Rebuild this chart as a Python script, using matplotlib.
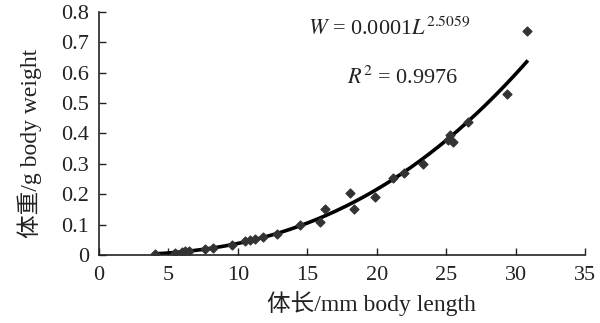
import numpy as np
import matplotlib
matplotlib.use("Agg")
import matplotlib.pyplot as plt

# body length (mm) and body weight (g)
length = [4.0, 5.5, 6.0, 6.2, 6.5, 7.6, 8.2, 9.6, 10.5, 10.9, 11.2, 11.8, 12.8,
          14.5, 15.9, 16.3, 18.1, 18.4, 19.9, 21.2, 22.0, 23.3, 25.1, 25.3, 25.5,
          26.6, 29.4, 30.8]
weight = [0.004, 0.008, 0.010, 0.012, 0.013, 0.019, 0.023, 0.034, 0.045, 0.048,
          0.052, 0.058, 0.070, 0.100, 0.109, 0.151, 0.204, 0.151, 0.191, 0.253,
          0.270, 0.300, 0.380, 0.395, 0.372, 0.437, 0.530, 0.737]

x_ticks = [0, 5, 10, 15, 20, 25, 30, 35]
y_ticks = [0, 0.1, 0.2, 0.3, 0.4, 0.5, 0.6, 0.7, 0.8]
y_tick_labels = ["0", "0.1", "0.2", "0.3", "0.4", "0.5", "0.6", "0.7", "0.8"]

fonts = ["Liberation Serif", "Noto Sans CJK SC"]
plt.rcParams["font.family"] = fonts
plt.rcParams["mathtext.fontset"] = "stix"

fig = plt.figure(figsize=(6.0, 3.23), dpi=100)
ax = fig.add_axes([0.165, 0.2105, 0.81, 0.7525])

# power trend line fitted on the data (log-log)
b, log_a = np.polyfit(np.log(length), np.log(weight), 1)
xs = np.linspace(min(length), max(length), 200)
ax.plot(xs, np.exp(log_a) * xs ** b, color="black", lw=2.6, zorder=2)

ax.scatter(length, weight, marker="D", s=20, color="#333333", zorder=3)

ax.set_xlim(0, 35)
ax.set_ylim(0, 0.8)
ax.set_xticks(x_ticks)
ax.set_yticks(y_ticks)
ax.set_yticklabels(y_tick_labels)
ax.tick_params(direction="in", length=5, width=1, labelsize=16, colors="#222222")
ax.tick_params(axis="x", pad=8)
ax.tick_params(axis="y", pad=7)
ax.spines["top"].set_visible(False)
ax.spines["right"].set_visible(False)
for s in ("left", "bottom"):
    ax.spines[s].set_linewidth(1.2)
    ax.spines[s].set_color("#222222")

ax.set_xlabel("体长/mm body length", fontsize=17, color="#222222")
ax.xaxis.set_label_coords(0.56, -0.15)
ax.set_ylabel("体重/g body weight", fontsize=17, color="#222222")
ax.yaxis.set_label_coords(-0.118, 0.46)

ax.text(0.43, 0.93, r"$W$ = 0.0001$L^{2.5059}$", transform=ax.transAxes,
        fontsize=16, ha="left", va="center", color="#222222")
ax.text(0.51, 0.73, r"$R^{2}$ = 0.9976", transform=ax.transAxes,
        fontsize=16, ha="left", va="center", color="#222222")

fig.savefig("out.png", dpi=100)
